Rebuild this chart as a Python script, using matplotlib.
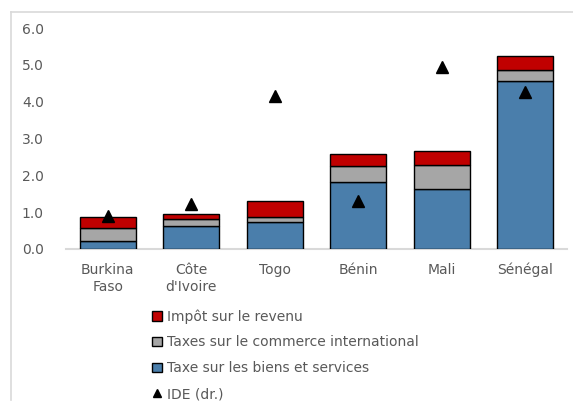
import matplotlib.pyplot as plt
from matplotlib.lines import Line2D
import numpy as np

plt.rcParams['font.family'] = ['DejaVu Sans']

pays = ['Burkina\nFaso', "Côte\nd'Ivoire", 'Togo', 'Bénin', 'Mali', 'Sénégal']
biens_services = [0.23, 0.62, 0.73, 1.81, 1.62, 4.56]
commerce_intl = [0.35, 0.20, 0.15, 0.44, 0.67, 0.30]
impot_revenu = [0.30, 0.12, 0.43, 0.33, 0.37, 0.37]
ide = [0.89, 1.22, 4.16, 1.29, 4.94, 4.27]

txt = '#595959'
fig = plt.figure(figsize=(5.73, 4.07), dpi=100)
ax = fig.add_axes([66 / 573, 1 - 249 / 407, 501 / 573, 221 / 407])

x = np.arange(len(pays))
w = 0.67
b1 = ax.bar(x, biens_services, w, color='#4A7EAB', edgecolor='black', linewidth=1,
            label='Taxe sur les biens et services')
bas = np.array(biens_services)
b2 = ax.bar(x, commerce_intl, w, bottom=bas, color='#A6A6A6', edgecolor='black',
            linewidth=1, label='Taxes sur le commerce international')
bas = bas + np.array(commerce_intl)
b3 = ax.bar(x, impot_revenu, w, bottom=bas, color='#C00000', edgecolor='black',
            linewidth=1, label='Impôt sur le revenu')
pts, = ax.plot(x, ide, linestyle='none', marker='^', color='black', markersize=8,
               label='IDE (dr.)')

ax.set_xlim(-0.5, 5.5)
ax.set_ylim(0, 6)
ax.set_yticks(np.arange(0, 6.1, 1.0))
ax.set_yticklabels([f'{v:.1f}' for v in np.arange(0, 6.1, 1.0)])
ax.set_xticks(x)
ax.set_xticklabels(pays, linespacing=1.3)
ax.tick_params(length=0, colors=txt, labelsize=10)
ax.tick_params(axis='y', pad=16)
ax.tick_params(axis='x', pad=10)
for s in ['top', 'right', 'left']:
    ax.spines[s].set_visible(False)
ax.spines['bottom'].set_color('#D9D9D9')
ax.spines['bottom'].set_linewidth(1.5)
ax.spines['bottom'].set_zorder(0)

leg = fig.legend([b3, b2, b1, pts],
                 [b3.get_label(), b2.get_label(), b1.get_label(), pts.get_label()],
                 loc='upper left', bbox_to_anchor=(152 / 573, 1 - 309 / 407),
                 frameon=False, fontsize=10, labelspacing=0.86,
                 handlelength=0.75, handleheight=0.7, handletextpad=0.3,
                 borderaxespad=0, borderpad=0)
for t in leg.get_texts():
    t.set_color(txt)
for h in leg.legend_handles[:3]:
    h.set_linewidth(1)
leg.legend_handles[3].set_markersize(6)

# cadre gris clair
fig.add_artist(Line2D([11 / 573, 11 / 573], [1 - 12 / 407, 1 - 400 / 407],
                      transform=fig.transFigure, color='#D9D9D9', linewidth=1.2))
fig.add_artist(Line2D([11 / 573, 1], [1 - 12 / 407, 1 - 12 / 407],
                      transform=fig.transFigure, color='#D9D9D9', linewidth=1.2))

fig.savefig('out.png', dpi=100)
